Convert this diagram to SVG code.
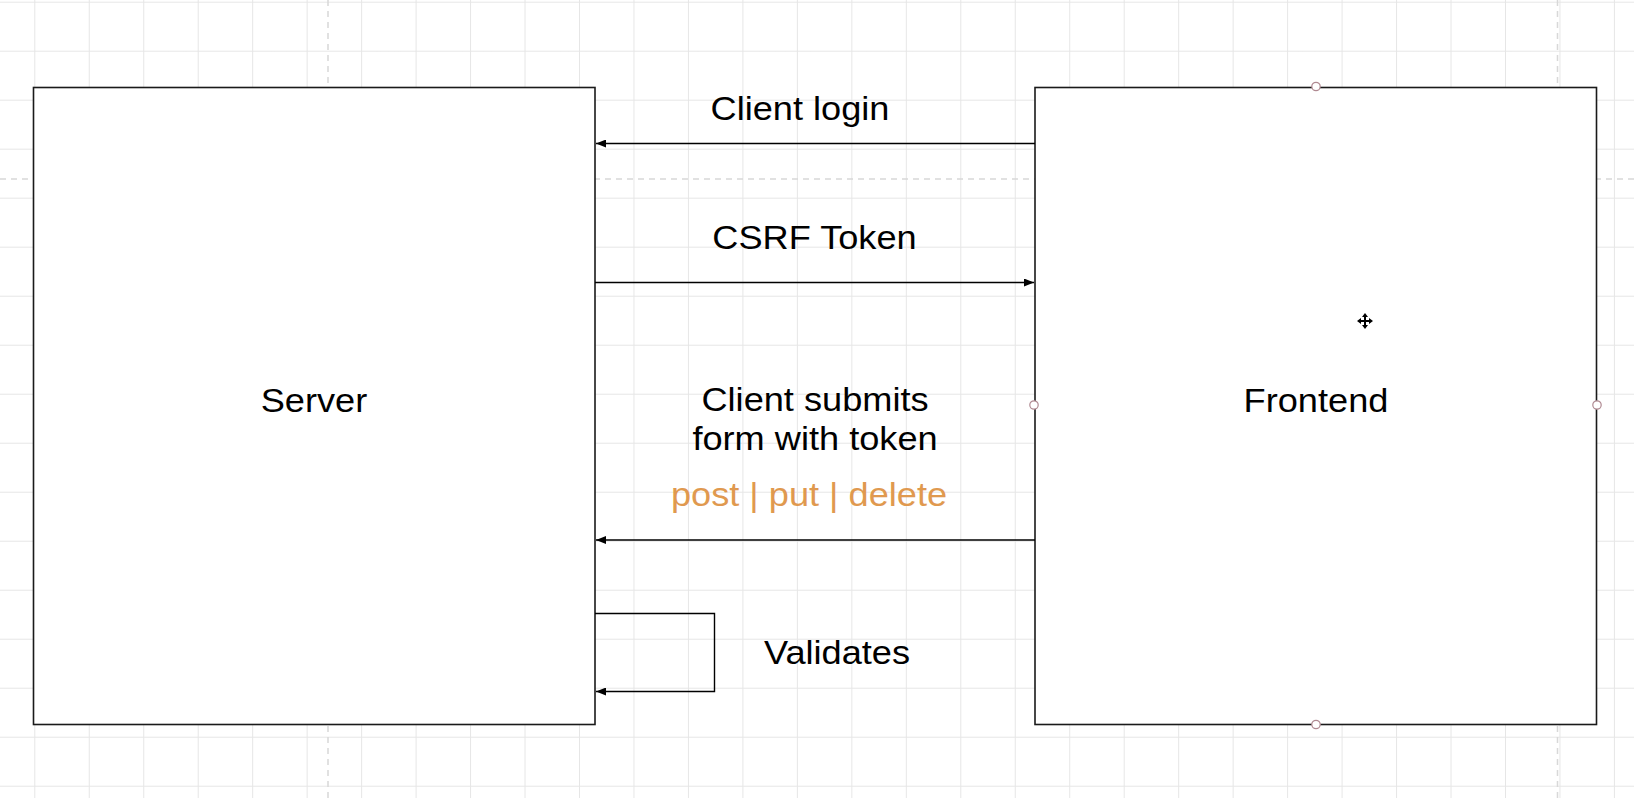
<svg xmlns="http://www.w3.org/2000/svg" width="1634" height="798" viewBox="0 0 1634 798">
  <defs>
    <pattern id="grid" patternUnits="userSpaceOnUse" x="34.3" y="1.7" width="54.47" height="49">
      <path d="M0.5 0 V49 M0 0.5 H54.47" fill="none" stroke="#e6e6e6" stroke-width="1"/>
    </pattern>
    <marker id="arrow" viewBox="0 0 10 8" refX="10" refY="4" markerWidth="10" markerHeight="8" markerUnits="userSpaceOnUse" orient="auto">
      <path d="M0 0 L10 4 L0 8 Z" fill="#000"/>
    </marker>
    <style>
      .box { fill: #fff; stroke: #1a1a1a; stroke-width: 1.6; }
      .conn { fill: none; stroke: #000; stroke-width: 1.4; marker-end: url(#arrow); }
      .lbl { font-family: "Liberation Sans", Arial, sans-serif; font-size: 32.6px; fill: #000; text-anchor: middle; }
      .verb { fill: #e0994f; }
      .handle { fill: #fff; stroke: #b08a92; stroke-width: 1.2; }
      .pagebreak { stroke: #d8d8d8; stroke-width: 1.5; stroke-dasharray: 6 5; fill: none; }
    </style>
  </defs>

  <!-- canvas background with grid -->
  <rect width="1634" height="798" fill="#fff"/>
  <rect width="1634" height="798" fill="url(#grid)"/>
  <path class="pagebreak" d="M328 0 V798 M1557.5 0 V798 M0 179 H1634"/>

  <!-- server node -->
  <g id="server">
    <rect class="box" x="33.5" y="87.5" width="561.5" height="637"/>
    <text class="lbl" transform="translate(314 412) scale(1.11 1)">Server</text>
  </g>

  <!-- frontend node -->
  <g id="frontend">
    <rect class="box" x="1035" y="87.5" width="561.5" height="637"/>
    <text class="lbl" transform="translate(1316 412) scale(1.11 1)">Frontend</text>
  </g>

  <!-- connectors between the two nodes -->
  <g id="connectors">
    <line class="conn" x1="1035" y1="143.5" x2="596" y2="143.5"/>
    <line class="conn" x1="595" y1="282.5" x2="1034" y2="282.5"/>
    <line class="conn" x1="1035" y1="540" x2="596" y2="540"/>
    <polyline class="conn" points="595,613.5 714.5,613.5 714.5,691.5 596,691.5"/>
  </g>

  <!-- connector labels -->
  <g id="labels">
    <text class="lbl" transform="translate(800 120) scale(1.11 1)">Client login</text>
    <text class="lbl" transform="translate(814.5 249) scale(1.11 1)">CSRF Token</text>
    <text class="lbl" transform="translate(815 411) scale(1.11 1)">Client submits</text>
    <text class="lbl" transform="translate(815 450) scale(1.11 1)">form with token</text>
    <text class="lbl verb" transform="translate(809 506) scale(1.11 1)">post | put | delete</text>
    <text class="lbl" transform="translate(837 664) scale(1.11 1)">Validates</text>
  </g>

  <!-- selection handles on the frontend node -->
  <g id="selection">
    <circle class="handle" cx="1316" cy="86.5" r="4.2"/>
    <circle class="handle" cx="1316" cy="724.5" r="4.2"/>
    <circle class="handle" cx="1034" cy="405" r="4.2"/>
    <circle class="handle" cx="1597" cy="405" r="4.2"/>
  </g>

  <!-- move cursor -->
  <g id="cursor" transform="translate(1365 321)">
    <path d="M0 -5 V5 M-5 0 H5" stroke="#000" stroke-width="2"/>
    <path d="M0 -8 L-3 -4 H3 Z M0 8 L-3 4 H3 Z M-8 0 L-4 -3 V3 Z M8 0 L4 -3 V3 Z" fill="#000"/>
  </g>
</svg>
